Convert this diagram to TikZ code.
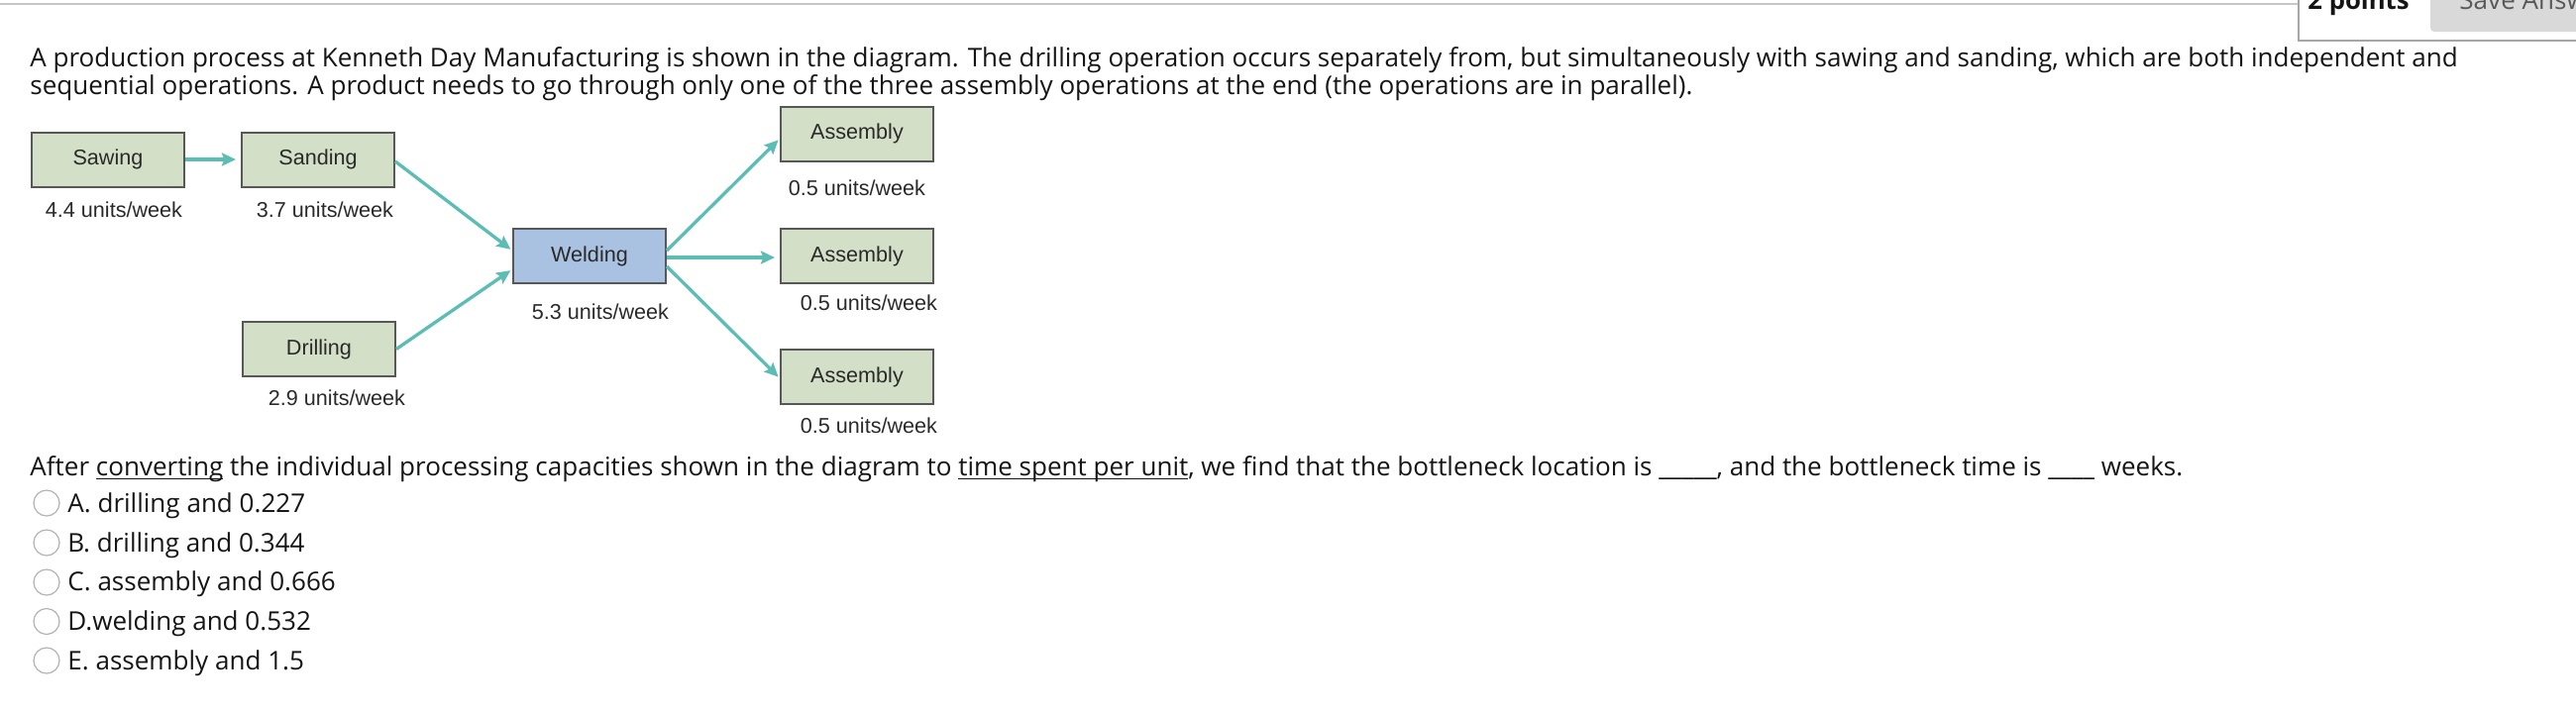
\documentclass[tikz,border=0pt]{standalone}
\usepackage{fontspec}
\setmainfont{Open Sans}
\newfontfamily\diagfont{Liberation Sans}
\usetikzlibrary{arrows.meta}
\newcommand\undl[1]{\setbox0\hbox{#1}\rlap{\rule[-2pt]{\wd0}{0.65pt}}\box0\relax}
\definecolor{boxgreen}{HTML}{D3DFC6}
\definecolor{boxblue}{HTML}{A9C2E2}
\definecolor{boxborder}{HTML}{575757}
\definecolor{arrowteal}{HTML}{5CBDB5}
\definecolor{txt}{HTML}{151515}
\definecolor{diagtxt}{HTML}{2A2A2A}
\begin{document}
\begin{tikzpicture}[x=0.5pt,y=-0.5pt,
  stage/.style={draw=boxborder, line width=1pt, fill=boxgreen, minimum width=77pt, minimum height=27.5pt, inner sep=0pt, font=\diagfont\fontsize{10.8}{12}\selectfont, text=diagtxt},
  rate/.style={font=\diagfont\fontsize{10.8}{12}\selectfont, text=diagtxt, inner sep=0pt, anchor=base},
  flow/.style={draw=arrowteal, line width=1.65pt, -{Stealth[length=7pt,width=6.5pt,inset=1.2pt]}},
  body/.style={font=\fontsize{13.02}{15}\selectfont, text=txt, anchor=base west, inner sep=0pt},
  radio/.style={circle, draw=black!30, line width=0.6pt, fill=white, minimum size=13pt, inner sep=0pt},
]
\useasboundingbox (0,0) rectangle (2600,720);
% header
\draw[black!22, line width=1pt] (0,4) coordinate (hl) -- (2320,4) coordinate (hr);
\fill[black!15, rounded corners=2pt] (2453,-20) rectangle (2620,32);
\draw[black!35, line width=1.1pt] (2320,-5) -- (2320,41) -- (2605,41);
\node[body, font=\bfseries\fontsize{12.85}{15}\selectfont] (pts) at (2329,9.5) {2 points};
\node[body, text=black!65] (save) at (2482,9.5) {Save Answe};
% question text
\node[body] (l1) at (30,67) {A production process at Kenneth Day Manufacturing is shown in the diagram. The drilling operation occurs separately from, but simultaneously with sawing and sanding, which are both independent and};
\node[body] (l2) at (30,95) {sequential operations. A product needs to go through only one of the three assembly operations at the end (the operations are in parallel).};
% diagram
\node[stage] (sawing) at (109,161) {Sawing};
\node[stage] (sanding) at (321,161) {Sanding};
\node[stage, fill=boxblue] (welding) at (595,258.5) {Welding};
\node[stage] (drilling) at (322,352.5) {Drilling};
\node[stage] (asm1) at (865,135) {Assembly};
\node[stage] (asm2) at (865,258.5) {Assembly};
\node[stage] (asm3) at (865,380.5) {Assembly};
\node[rate] (rsaw) at (115,219) {4.4 units/week};
\node[rate] (rsand) at (328,219) {3.7 units/week};
\node[rate] (rweld) at (606,322) {5.3 units/week};
\node[rate] (rdrill) at (340,409) {2.9 units/week};
\node[rate] (ra1) at (865,197) {0.5 units/week};
\node[rate] (ra2) at (877,313) {0.5 units/week};
\node[rate] (ra3) at (877,437) {0.5 units/week};
\draw[flow, shorten >=2.5pt] (sawing.east) -- (sanding.west);
\draw[flow, shorten >=1pt] ([yshift=-1pt]sanding.east) -- ([yshift=2.75pt]welding.west);
\draw[flow, shorten >=1pt] (drilling.east) -- ([yshift=-6.75pt]welding.west);
\draw[flow, shorten >=1pt] ([yshift=2.75pt]welding.east) -- ([yshift=-2.5pt]asm1.west);
\draw[flow, shorten >=2.5pt] ([yshift=-0.75pt]welding.east) -- ([yshift=-0.75pt]asm2.west);
\draw[flow, shorten >=1pt] ([yshift=-5.25pt]welding.east) -- ([yshift=-0.75pt]asm3.west);
% question
\node[body] (q) at (30,480) {After \undl{converting} the individual processing capacities shown in the diagram to \undl{time spent per unit}, we find that the bottleneck location is \_\_\_\_\_, and the bottleneck time is \_\_\_\_ weeks.};
\node[radio] (ra) at (47,508) {};
\node[radio] (rb) at (47,548) {};
\node[radio] (rc) at (47,588) {};
\node[radio] (rd) at (47,627.5) {};
\node[radio] (re) at (47,667) {};
\node[body] (oa) at (68,517) {A. drilling and 0.227};
\node[body] (ob) at (68,557) {B. drilling and 0.344};
\node[body] (oc) at (68,596.5) {C. assembly and 0.666};
\node[body] (od) at (68,636) {D.welding and 0.532};
\node[body] (oe) at (68,676) {E. assembly and 1.5};
\end{tikzpicture}
\end{document}
